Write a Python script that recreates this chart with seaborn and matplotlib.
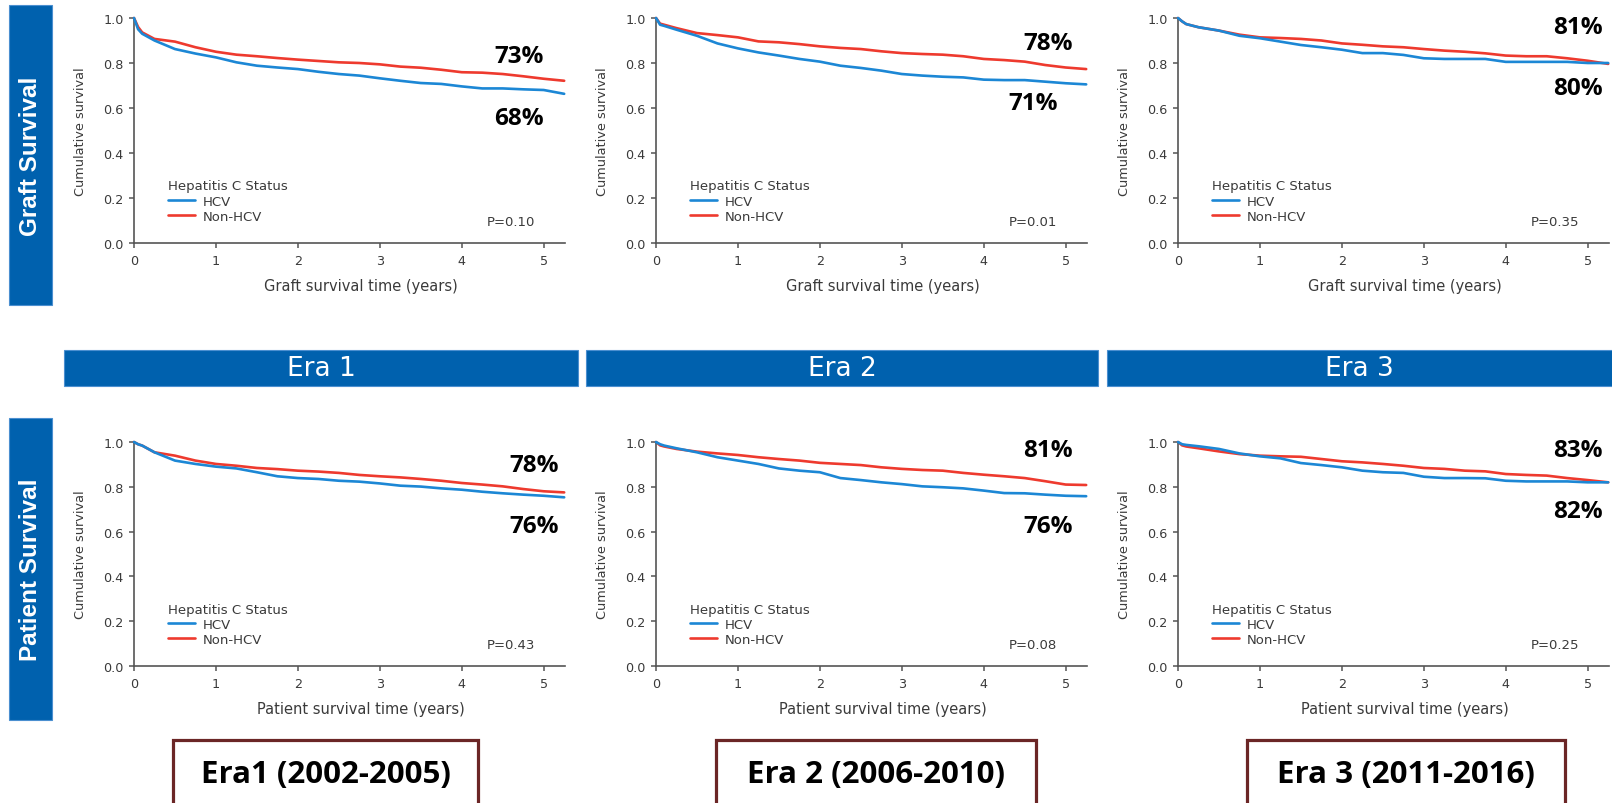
import matplotlib
matplotlib.use("Agg")
import matplotlib.pyplot as plt
from matplotlib.patches import Rectangle
from matplotlib.lines import Line2D
import pandas as pd
import seaborn as sns

# Follow-up grid (years) shared by every Kaplan-Meier curve
TIMES = [0.0, 0.05, 0.1, 0.25, 0.5, 0.75, 1.0, 1.25, 1.5, 1.75, 2.0, 2.25,
         2.5, 2.75, 3.0, 3.25, 3.5, 3.75, 4.0, 4.25, 4.5, 4.75, 5.0, 5.25]

# Graft survival
GRAFT_ERA1_HCV = [1.0, 0.95, 0.93, 0.90, 0.862, 0.842, 0.825, 0.803, 0.788, 0.78, 0.773, 0.761,
                  0.751, 0.744, 0.732, 0.721, 0.711, 0.707, 0.696, 0.687, 0.687, 0.683, 0.68, 0.663]
GRAFT_ERA1_NON = [1.0, 0.96, 0.936, 0.907, 0.895, 0.87, 0.85, 0.837, 0.83, 0.822, 0.815, 0.809,
                  0.803, 0.80, 0.794, 0.784, 0.779, 0.77, 0.759, 0.757, 0.751, 0.741, 0.73, 0.721]
GRAFT_ERA2_HCV = [1.0, 0.97, 0.965, 0.948, 0.921, 0.887, 0.865, 0.847, 0.833, 0.818, 0.806, 0.788,
                  0.778, 0.766, 0.751, 0.744, 0.739, 0.736, 0.726, 0.724, 0.724, 0.717, 0.71, 0.705]
GRAFT_ERA2_NON = [1.0, 0.975, 0.97, 0.955, 0.933, 0.924, 0.914, 0.896, 0.892, 0.884, 0.874, 0.867,
                  0.862, 0.852, 0.844, 0.84, 0.837, 0.83, 0.818, 0.813, 0.806, 0.791, 0.78, 0.773]
GRAFT_ERA3_HCV = [1.0, 0.985, 0.973, 0.959, 0.944, 0.921, 0.91, 0.895, 0.88, 0.87, 0.859, 0.844,
                  0.844, 0.836, 0.821, 0.818, 0.818, 0.818, 0.805, 0.805, 0.805, 0.805, 0.80, 0.80]
GRAFT_ERA3_NON = [1.0, 0.985, 0.973, 0.959, 0.944, 0.926, 0.914, 0.911, 0.907, 0.90, 0.887, 0.881,
                  0.874, 0.87, 0.862, 0.855, 0.85, 0.843, 0.833, 0.83, 0.83, 0.821, 0.81, 0.796]

# Patient survival
PATIENT_ERA1_HCV = [1.0, 0.99, 0.984, 0.954, 0.917, 0.902, 0.89, 0.882, 0.865, 0.847, 0.839, 0.835,
                    0.827, 0.823, 0.815, 0.805, 0.801, 0.793, 0.787, 0.778, 0.771, 0.765, 0.76, 0.753]
PATIENT_ERA1_NON = [1.0, 0.99, 0.984, 0.954, 0.939, 0.917, 0.902, 0.894, 0.884, 0.879, 0.872, 0.868,
                    0.862, 0.853, 0.847, 0.842, 0.835, 0.827, 0.817, 0.81, 0.802, 0.79, 0.78, 0.775]
PATIENT_ERA2_HCV = [1.0, 0.99, 0.984, 0.972, 0.954, 0.932, 0.917, 0.902, 0.882, 0.872, 0.865, 0.839,
                    0.83, 0.82, 0.812, 0.802, 0.798, 0.793, 0.783, 0.772, 0.771, 0.765, 0.76, 0.758]
PATIENT_ERA2_NON = [1.0, 0.985, 0.98, 0.969, 0.957, 0.949, 0.942, 0.932, 0.924, 0.917, 0.907, 0.902,
                    0.897, 0.887, 0.88, 0.875, 0.872, 0.862, 0.854, 0.847, 0.839, 0.825, 0.81, 0.808]
PATIENT_ERA3_HCV = [1.0, 0.99, 0.987, 0.981, 0.969, 0.949, 0.936, 0.927, 0.906, 0.897, 0.887, 0.872,
                    0.865, 0.862, 0.845, 0.839, 0.839, 0.838, 0.827, 0.824, 0.824, 0.824, 0.82, 0.82]
PATIENT_ERA3_NON = [1.0, 0.985, 0.98, 0.972, 0.958, 0.946, 0.939, 0.936, 0.934, 0.924, 0.914, 0.909,
                    0.902, 0.894, 0.884, 0.88, 0.872, 0.869, 0.857, 0.853, 0.85, 0.839, 0.83, 0.82]

GROUPS = ["HCV", "Non-HCV"]
LEGEND_TITLE = "Hepatitis C Status"
ROW_TITLES = ["Graft Survival", "Patient Survival"]
X_LABELS = ["Graft survival time (years)", "Patient survival time (years)"]
Y_LABEL = "Cumulative survival"
ERA_BANNERS = ["Era 1", "Era 2", "Era 3"]
ERA_PERIODS = ["Era1 (2002-2005)", "Era 2 (2006-2010)", "Era 3 (2011-2016)"]
P_VALUES = [["P=0.10", "P=0.01", "P=0.35"],
            ["P=0.43", "P=0.08", "P=0.25"]]
X_TICKS = [0, 1, 2, 3, 4, 5]
Y_TICKS = [0.0, 0.2, 0.4, 0.6, 0.8, 1.0]
LABEL_YEAR = 5.0

SERIES = [[(GRAFT_ERA1_HCV, GRAFT_ERA1_NON), (GRAFT_ERA2_HCV, GRAFT_ERA2_NON), (GRAFT_ERA3_HCV, GRAFT_ERA3_NON)],
          [(PATIENT_ERA1_HCV, PATIENT_ERA1_NON), (PATIENT_ERA2_HCV, PATIENT_ERA2_NON), (PATIENT_ERA3_HCV, PATIENT_ERA3_NON)]]

# ---- styling / layout ----
BLUE = "#1C87D5"
RED = "#EE3A2E"
PALETTE = {"HCV": BLUE, "Non-HCV": RED}
BANNER = "#0061AE"
BOX_EDGE = "#6B2626"
INK = "#3a3a3a"
SPINE = "#555555"

# percent-label anchors (axes fraction) for HCV / Non-HCV in each panel
PCT_POS = [[((0.893, 0.556), (0.893, 0.829)), ((0.875, 0.624), (0.910, 0.891)), ((0.928, 0.691), (0.928, 0.962))],
           [((0.928, 0.623), (0.928, 0.897)), ((0.910, 0.625), (0.910, 0.964)), ((0.928, 0.692), (0.928, 0.964))]]

W, H = 1612, 804
sns.set_theme(style="ticks")
plt.rcParams["font.family"] = ["DejaVu Sans"]

fig = plt.figure(figsize=(W / 100, H / 100), dpi=100)
fig.patch.set_facecolor("white")


def fx(px):
    return px / W


def fy(py):
    return 1 - py / H


COL_LEFT = [134, 656, 1178]
AX_W = 431
ROWS = [(19, 244), (443, 667)]
i5 = TIMES.index(LABEL_YEAR)

for r in range(2):
    top, bot = ROWS[r]
    for c in range(3):
        ax = fig.add_axes([fx(COL_LEFT[c]), fy(bot), AX_W / W, (bot - top) / H])
        hcv, non = SERIES[r][c]
        n = len(TIMES)
        df = pd.DataFrame({
            "time": TIMES + TIMES,
            "survival": hcv + non,
            "status": ["HCV"] * n + ["Non-HCV"] * n,
        })
        sns.lineplot(data=df, x="time", y="survival", hue="status", hue_order=GROUPS,
                     palette=PALETTE, estimator=None, sort=False, linewidth=1.9,
                     legend=False, ax=ax)
        for line in ax.lines:
            line.set_clip_on(False)
        ax.lines[0].set_zorder(3)

        ax.set_xlim(0, 5.26)
        ax.set_ylim(0, 1.0)
        ax.set_xticks(X_TICKS)
        ax.set_xticklabels([str(t) for t in X_TICKS])
        ax.set_yticks(Y_TICKS)
        ax.set_yticklabels([f"{v:.1f}" for v in Y_TICKS])
        ax.tick_params(direction="out", length=3.6, width=1.1, color=SPINE,
                       labelsize=9.2, labelcolor=INK, pad=4)
        sns.despine(ax=ax)
        for side in ("left", "bottom"):
            ax.spines[side].set_color(SPINE)
            ax.spines[side].set_linewidth(1.2)
        ax.set_facecolor("white")

        ax.set_xlabel(X_LABELS[r], fontsize=10.5, color=INK)
        ax.xaxis.set_label_coords(0.526, -43 / (bot - top))
        ax.xaxis.label.set_va("center")
        ax.set_ylabel(Y_LABEL, fontsize=9.3, color=INK)
        ax.yaxis.set_label_coords(-53 / AX_W, 0.5)
        ax.yaxis.label.set_va("center")

        handles = [Line2D([], [], color=PALETTE[g], linewidth=1.9) for g in GROUPS]
        leg = ax.legend(handles, GROUPS, title=LEGEND_TITLE, loc="upper left",
                        bbox_to_anchor=(0.078, 0.283), frameon=False, fontsize=9.5,
                        title_fontsize=9.5, alignment="left", borderpad=0, borderaxespad=0,
                        handlelength=2.1, handletextpad=0.6, labelspacing=0.17)
        leg.get_title().set_color(INK)
        for t in leg.get_texts():
            t.set_color(INK)

        ax.text(0.874, 0.095, P_VALUES[r][c], transform=ax.transAxes, ha="center",
                va="center", fontsize=9.5, color=INK)

        for series, (px_, py_) in zip((hcv, non), PCT_POS[r][c]):
            ax.text(px_, py_, f"{round(series[i5] * 100)}%", transform=ax.transAxes,
                    ha="center", va="center", fontsize=17.5, fontweight="bold",
                    family="Open Sans", color="black")

# vertical row banners
for title, (y0, y1) in zip(ROW_TITLES, [(6, 306), (419, 721)]):
    fig.add_artist(Rectangle((fx(9), fy(y1)), 43 / W, (y1 - y0) / H, transform=fig.transFigure,
                             facecolor=BANNER, edgecolor="#4b8fd0", linewidth=0.8))
    fig.text(fx(31), fy((y0 + y1) / 2), title, rotation=90, ha="center", va="center",
             color="white", fontsize=17.5, fontweight="bold", family="Liberation Sans")

# era banners
for label, (x0, x1) in zip(ERA_BANNERS, [(64, 578), (586, 1098), (1107, 1614)]):
    fig.add_artist(Rectangle((fx(x0), fy(387)), (x1 - x0) / W, 36 / H, transform=fig.transFigure,
                             facecolor=BANNER, edgecolor="#4b8fd0", linewidth=0.8))
    fig.text(fx((x0 + min(x1, 1612)) / 2), fy(369), label, ha="center", va="center",
             color="white", fontsize=19)

# era period boxes
for label, (x0, x1) in zip(ERA_PERIODS, [(173, 478), (716, 1036), (1247, 1565)]):
    fig.add_artist(Rectangle((fx(x0), fy(815)), (x1 - x0) / W, 74 / H, transform=fig.transFigure,
                             facecolor="white", edgecolor=BOX_EDGE, linewidth=2.3))
    fig.text(fx((x0 + x1) / 2), fy(775), label, ha="center", va="center", color="black",
             fontsize=22.5, fontweight="bold", family="Open Sans")

fig.savefig("out.png", dpi=100)
